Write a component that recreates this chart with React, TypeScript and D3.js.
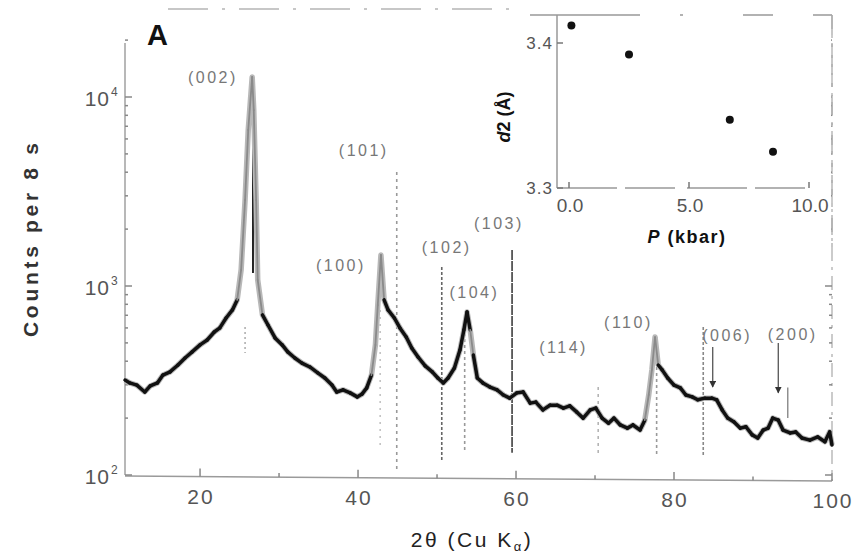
import { useEffect, useRef } from "react";
import * as d3 from "d3";

// XRD scan, counts per 8 s vs 2theta
const twoTheta = [
  10.5, 11.1, 12.0, 13.0, 13.7, 14.6, 15.3, 16.2, 17.2, 18.1, 19.0, 20.0, 20.9, 21.8, 22.5,
  23.3, 24.1, 24.7, 25.2, 25.7, 26.1, 26.6, 26.8, 27.1, 27.3, 27.9, 28.6, 29.5, 30.4, 31.1,
  32.0, 32.9, 33.9, 34.9, 35.8, 36.7, 37.3, 38.1, 39.0, 39.9, 40.5, 41.1, 41.7, 42.2, 42.5,
  42.9, 43.3, 43.8, 44.6, 45.3, 46.1, 46.8, 47.6, 48.5, 49.4, 50.1, 50.8, 51.4, 52.2, 52.9,
  53.4, 53.8, 54.2, 54.6, 55.1, 55.8, 56.7, 57.6, 58.4, 59.2, 60.1, 60.9, 61.8, 62.5, 63.4,
  64.3, 65.2, 66.0, 66.8, 67.7, 68.5, 69.4, 70.1, 70.9, 71.7, 72.4, 73.2, 74.1, 74.8, 75.7,
  76.3, 76.8, 77.2, 77.6, 78.0, 78.5, 79.2, 80.0, 80.8, 81.5, 82.3, 83.0, 83.9, 84.8, 85.4,
  86.1, 86.8, 87.6, 88.4, 89.1, 89.9, 90.6, 91.3, 91.9, 92.5, 93.2, 93.8, 94.7, 95.4, 96.2,
  97.2, 98.2, 99.1, 99.7, 100.0,
];
const counts = [
  318, 307, 299, 275, 296, 307, 338, 351, 382, 416, 448, 488, 518, 571, 600,
  677, 747, 844, 1216, 2852, 6690, 12760, 8530, 2850, 1076, 703, 622, 531, 488, 448,
  416, 391, 373, 347, 326, 299, 275, 282, 272, 259, 268, 289, 338, 488, 793,
  1460, 844, 747, 677, 600, 537, 470, 421, 378, 351, 326, 307, 326, 368, 458,
  585, 728, 585, 431, 326, 307, 292, 282, 265, 255, 272, 275, 240, 243, 221,
  234, 234, 226, 232, 215, 200, 221, 226, 200, 188, 200, 184, 177, 184, 173,
  195, 265, 360, 537, 382, 360, 326, 299, 289, 265, 259, 250, 255, 255, 250,
  221, 200, 191, 177, 180, 163, 157, 173, 177, 200, 195, 173, 167, 169, 157,
  153, 159, 150, 169, 144,
];

// reference sticks: position, upper and lower counts
const stickTheta = [26.7, 25.7, 44.9, 50.6, 59.5, 53.5, 42.8, 70.4, 77.8, 83.7, 94.4];
const stickTop = [10000, 607, 4009, 1259, 1550, 607, 747, 292, 537, 607, 290];
const stickBottom = [1172, 442, 106, 120, 131, 131, 136, 125, 125, 125, 200];

// reflection labels
const peakNames = ["(002)", "(101)", "(100)", "(102)", "(103)", "(104)", "(114)", "(110)", "(006)", "(200)"];
const peakTheta = [21.5, 40.6, 37.7, 51.1, 57.7, 54.6, 65.9, 74.1, 86.6, 94.9];
const peakCounts = [12770, 5250, 1290, 1608, 2153, 929, 475, 645, 550, 560];

// arrows for (006) and (200)
const arrowTheta = [84.9, 93.2];
const arrowFrom = [475, 499];
const arrowTo = [292, 272];

const xTicks = [20, 40, 60, 80, 100];
const yTicks = [100, 1000, 10000];
const yTickExp = ["2", "3", "4"];

// inset: layer spacing vs pressure
const pressure = [0.1, 2.5, 6.7, 8.5];
const spacing = [3.412, 3.392, 3.347, 3.325];
const insetXTicks = [0, 5, 10];
const insetXLabels = ["0.0", "5.0", "10.0"];
const insetYTicks = [3.3, 3.4];
const insetYLabels = ["3.3", "3.4"];

const FONT = "'Liberation Sans', Arial, sans-serif";

const App = () => {
  const svgRef = useRef(null);

  useEffect(() => {
    const svg = d3.select(svgRef.current);
    svg.selectAll("*").remove();

    const x = d3.scaleLinear().domain([10.5, 100]).range([125, 832]);
    const y = d3.scaleLog().domain([100, Math.pow(10, 2 + 435 / 189)]).range([475, 40]);

    const g = svg.append("g").style("font-family", FONT);

    // frame (the scanned bottom axis sags a little to the right)
    g.append("line")
      .attr("x1", x.range()[0]).attr("x2", x.range()[1])
      .attr("y1", y(100) + 1).attr("y2", y(100) + 6)
      .attr("stroke", "#9a9a9a").attr("stroke-width", 1.5);
    g.append("line")
      .attr("x1", x.range()[0]).attr("x2", x.range()[0])
      .attr("y1", y.range()[1] + 3).attr("y2", y(100))
      .attr("stroke", "#a0a0a0").attr("stroke-width", 1.5);
    g.append("line")
      .attr("x1", x.range()[1]).attr("x2", x.range()[1])
      .attr("y1", 15).attr("y2", y(100) + 6)
      .attr("stroke", "#b0b0b0").attr("stroke-width", 1.3)
      .attr("stroke-dasharray", "14 6 3 6");
    g.append("line")
      .attr("x1", 168).attr("x2", 520).attr("y1", 9).attr("y2", 9)
      .attr("stroke", "#b5b5b5").attr("stroke-width", 1.3)
      .attr("stroke-dasharray", "40 14 3 14");

    // y ticks (log, with minor)
    const allY = y.ticks().filter((v) => v >= 100);
    [x.range()[0], x.range()[1]].forEach((x0, side) => {
      const dir = side === 0 ? 1 : -1;
      g.selectAll(null)
        .data(allY)
        .enter()
        .append("line")
        .attr("x1", x0)
        .attr("x2", (d) => x0 + dir * (yTicks.includes(d) ? 7 : 3))
        .attr("y1", (d) => y(d))
        .attr("y2", (d) => y(d))
        .attr("stroke", "#888")
        .attr("stroke-width", 1.5);
    });

    // x ticks
    const sag = (v) => ((x(v) - x.range()[0]) / (x.range()[1] - x.range()[0])) * 5;
    g.selectAll(null)
      .data(d3.range(20, 101, 10))
      .enter()
      .append("line")
      .attr("x1", (d) => x(d))
      .attr("x2", (d) => x(d))
      .attr("y1", (d) => y(100) + 1 + sag(d))
      .attr("y2", (d) => y(100) + 1 + sag(d) - (xTicks.includes(d) ? 8 : 4))
      .attr("stroke", "#888")
      .attr("stroke-width", 1.5);

    g.selectAll(null)
      .data(xTicks)
      .enter()
      .append("text")
      .attr("x", (d) => x(d) + 1)
      .attr("y", (d) => y(100) + 28 + sag(d))
      .attr("text-anchor", "middle")
      .attr("font-size", 21)
      .attr("letter-spacing", 2)
      .attr("fill", "#555")
      .text((d) => d);

    yTicks.forEach((v, i) => {
      g.append("text")
        .attr("x", 110)
        .attr("y", y(v) + 9)
        .attr("text-anchor", "end")
        .attr("font-size", 21)
        .attr("letter-spacing", 1)
        .attr("fill", "#555")
        .text("10");
      g.append("text")
        .attr("x", 111)
        .attr("y", y(v) - 1)
        .attr("font-size", 12)
        .attr("fill", "#555")
        .text(yTickExp[i]);
    });

    // reference sticks
    const stickStyle = [
      { c: "#222", w: 2, dash: null },
      { c: "#aaa", w: 1.5, dash: "2 3" },
      { c: "#999", w: 1.6, dash: "3 4" },
      { c: "#666", w: 1.6, dash: "3 2" },
      { c: "#555", w: 1.8, dash: "10 1" },
      { c: "#999", w: 1.6, dash: "3 3" },
      { c: "#bbb", w: 1.4, dash: "2 5" },
      { c: "#aaa", w: 1.4, dash: "3 4" },
      { c: "#999", w: 1.6, dash: "3 3" },
      { c: "#888", w: 1.6, dash: "3 2" },
      { c: "#888", w: 1.4, dash: null },
    ];
    stickTheta.forEach((t, i) => {
      const s = stickStyle[i];
      g.append("line")
        .attr("x1", x(t)).attr("x2", x(t))
        .attr("y1", y(stickTop[i])).attr("y2", y(stickBottom[i]))
        .attr("stroke", s.c)
        .attr("stroke-width", s.w)
        .attr("stroke-dasharray", s.dash);
    });

    // spectrum
    const pts = twoTheta.map((t, i) => [x(t), y(counts[i])]);
    g.append("path")
      .datum(pts)
      .attr("fill", "none")
      .attr("stroke", "#b8b8b8")
      .attr("stroke-width", 5.5)
      .attr("stroke-linejoin", "round")
      .attr("d", d3.line());
    for (let i = 0; i < pts.length - 1; i++) {
      const [x1, y1] = pts[i];
      const [x2, y2] = pts[i + 1];
      const steep = Math.abs((y2 - y1) / (x2 - x1)) > 6;
      g.append("line")
        .attr("x1", x1).attr("y1", y1).attr("x2", x2).attr("y2", y2)
        .attr("stroke", steep ? "#8a8a8a" : "#111")
        .attr("stroke-width", steep ? 1.8 : 3.5)
        .attr("stroke-linecap", "round");
    }

    // arrows
    const defs = svg.append("defs");
    defs.append("marker")
      .attr("id", "ah")
      .attr("viewBox", "0 0 10 10")
      .attr("refX", 9).attr("refY", 5)
      .attr("markerWidth", 7).attr("markerHeight", 7)
      .attr("markerUnits", "userSpaceOnUse")
      .attr("orient", "auto")
      .append("path")
      .attr("d", "M0,0L10,5L0,10z")
      .attr("fill", "#333");
    arrowTheta.forEach((t, i) => {
      g.append("line")
        .attr("x1", x(t)).attr("x2", x(t))
        .attr("y1", y(arrowFrom[i])).attr("y2", y(arrowTo[i]))
        .attr("stroke", "#555")
        .attr("stroke-width", 1.3)
        .attr("marker-end", "url(#ah)");
    });

    // inset background (drawn before labels so (103) stays visible)
    const ix = d3.scaleLinear().domain([0, 10]).range([569, 809]);
    const iy = d3.scaleLinear().domain([3.3, 3.4]).range([188, 43]);
    const ig = g.append("g");
    ig.append("rect")
      .attr("x", 530).attr("y", 11)
      .attr("width", x.range()[1] - 531).attr("height", 238)
      .attr("fill", "#fff");

    // peak labels
    g.selectAll(null)
      .data(peakNames)
      .enter()
      .append("text")
      .attr("x", (d, i) => x(peakTheta[i]) + 1)
      .attr("y", (d, i) => y(peakCounts[i]) + 6)
      .attr("text-anchor", "middle")
      .attr("font-size", 16)
      .attr("letter-spacing", 2.5)
      .attr("fill", "#777")
      .text((d) => d);

    // panel letter and axis titles
    g.append("text")
      .attr("x", 147).attr("y", 45)
      .attr("font-size", 29).attr("font-weight", "bold")
      .attr("fill", "#111")
      .text("A");

    g.append("text")
      .attr("transform", "translate(38,240) rotate(-90)")
      .attr("text-anchor", "middle")
      .attr("font-size", 21)
      .attr("font-weight", "bold")
      .attr("fill", "#333")
      .attr("textLength", 194)
      .attr("lengthAdjust", "spacing")
      .text("Counts per 8 s");

    const xl = g.append("text")
      .attr("x", 472).attr("y", 547)
      .attr("text-anchor", "middle")
      .attr("font-size", 21)
      .attr("letter-spacing", 2.5)
      .attr("fill", "#222");
    xl.append("tspan").text("2θ (Cu K");
    xl.append("tspan").attr("dy", 4).attr("font-size", 13).text("α");
    xl.append("tspan").attr("dy", -4).text(")");

    // inset axes
    ig.append("line")
      .attr("x1", 557).attr("x2", 557).attr("y1", 15).attr("y2", iy(3.3))
      .attr("stroke", "#999").attr("stroke-width", 1.5);
    ig.append("line")
      .attr("x1", 557).attr("x2", ix(10) + 4).attr("y1", iy(3.3)).attr("y2", iy(3.3))
      .attr("stroke", "#999").attr("stroke-width", 1.5)
      .attr("stroke-dasharray", "60 8 50 12");
    ig.append("line")
      .attr("x1", 530).attr("x2", x.range()[1]).attr("y1", 15).attr("y2", 15)
      .attr("stroke", "#999").attr("stroke-width", 1.5)
      .attr("stroke-dasharray", "110 40 3 60 30 40");
    ig.append("line")
      .attr("x1", x.range()[1]).attr("x2", x.range()[1]).attr("y1", 15).attr("y2", 248)
      .attr("stroke", "#aaa").attr("stroke-width", 1.3)
      .attr("stroke-dasharray", "20 8 4 8");

    insetXTicks.forEach((v, i) => {
      ig.append("line")
        .attr("x1", ix(v)).attr("x2", ix(v))
        .attr("y1", iy(3.3)).attr("y2", iy(3.3) - 6)
        .attr("stroke", "#777").attr("stroke-width", 1.5);
      ig.append("text")
        .attr("x", ix(v) + 1).attr("y", iy(3.3) + 24)
        .attr("text-anchor", "middle")
        .attr("font-size", 19)
        .attr("fill", "#555")
        .text(insetXLabels[i]);
    });
    insetYTicks.forEach((v, i) => {
      ig.append("line")
        .attr("x1", 557).attr("x2", 563)
        .attr("y1", iy(v)).attr("y2", iy(v))
        .attr("stroke", "#777").attr("stroke-width", 1.5);
      ig.append("text")
        .attr("x", 553).attr("y", iy(v) + 6)
        .attr("text-anchor", "end")
        .attr("font-size", 17)
        .attr("letter-spacing", 1)
        .attr("fill", "#555")
        .text(insetYLabels[i]);
    });

    const iyl = ig.append("text")
      .attr("transform", "translate(510,117) rotate(-90)")
      .attr("text-anchor", "middle")
      .attr("font-size", 18)
      .attr("font-weight", "bold")
      .attr("fill", "#111");
    iyl.append("tspan").attr("font-style", "italic").text("d");
    iyl.append("tspan").text("2 (Å)");

    const ixl = ig.append("text")
      .attr("x", 687).attr("y", 243)
      .attr("text-anchor", "middle")
      .attr("font-size", 18)
      .attr("font-weight", "bold")
      .attr("letter-spacing", 1.5)
      .attr("fill", "#111");
    ixl.append("tspan").attr("font-style", "italic").text("P");
    ixl.append("tspan").text(" (kbar)");

    ig.selectAll(null)
      .data(pressure)
      .enter()
      .append("circle")
      .attr("cx", (d) => ix(d))
      .attr("cy", (d, i) => iy(spacing[i]))
      .attr("r", 4)
      .attr("fill", "#111");
  }, []);

  return (
    <svg
      ref={svgRef}
      width={854}
      height={557}
      style={{ position: "absolute", left: 0, top: 0, background: "#fff" }}
    />
  );
};

export default App;
